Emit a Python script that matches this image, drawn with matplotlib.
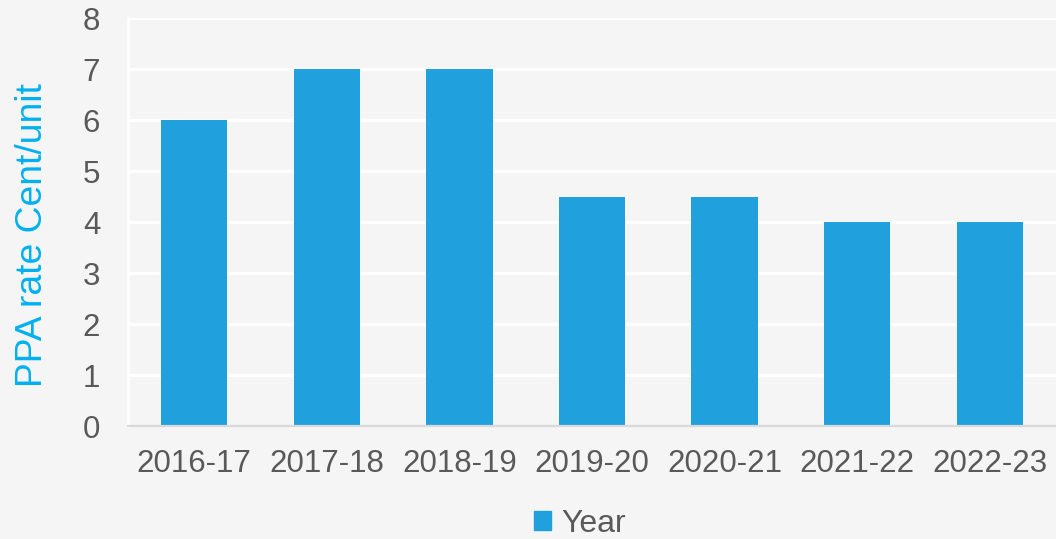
import matplotlib
matplotlib.use("Agg")
import matplotlib.pyplot as plt
import matplotlib.patches as mpatches

YEARS = ["2016-17", "2017-18", "2018-19", "2019-20", "2020-21", "2021-22", "2022-23"]
PPA_RATE = [6, 7, 7, 4.5, 4.5, 4, 4]
Y_TICKS = [0, 1, 2, 3, 4, 5, 6, 7, 8]

BG = "#F5F5F5"
BAR = "#20A0DC"
TEXT = "#595959"
LABEL_BLUE = "#00B0F0"

plt.rcParams["font.family"] = ["Liberation Sans", "DejaVu Sans"]

fig = plt.figure(figsize=(10.56, 5.39), dpi=100, facecolor=BG)
ax = fig.add_axes([0.1212, 0.2096, 0.8788, 0.757], facecolor=BG)

x = list(range(len(YEARS)))
ax.bar(x, PPA_RATE, width=0.5, color=BAR, zorder=3)

ax.set_xlim(-0.5, len(YEARS) - 0.5)
ax.set_ylim(0, 8)
ax.set_yticks(Y_TICKS)
ax.set_xticks(x)
ax.set_xticklabels(YEARS)
ax.tick_params(axis="both", length=0, labelsize=22.5, colors=TEXT)
ax.tick_params(axis="y", pad=20)
ax.tick_params(axis="x", pad=16.5)

ax.grid(axis="y", color="white", lw=2.2, zorder=0)
ax.set_axisbelow(True)
for side in ("top", "right"):
    ax.spines[side].set_visible(False)
ax.spines["left"].set_color("white")
ax.spines["left"].set_linewidth(2)
ax.spines["bottom"].set_color("#D9D9D9")
ax.spines["bottom"].set_linewidth(1.6)
ax.spines["bottom"].set_zorder(4)

# axis title sits a little below the plot's vertical centre
fig.text(0.0305, 0.564, "PPA rate Cent/unit", rotation=90, ha="center", va="center",
         fontsize=26.8, color=LABEL_BLUE)

handle = mpatches.Patch(color=BAR, label="Year")
fig.legend(handles=[handle], loc="center", bbox_to_anchor=(0.549, 0.028),
           frameon=False, fontsize=23, labelcolor=TEXT,
           handlelength=0.55, handleheight=0.55, handletextpad=0.3)

fig.savefig("out.png", dpi=100, facecolor=BG)
